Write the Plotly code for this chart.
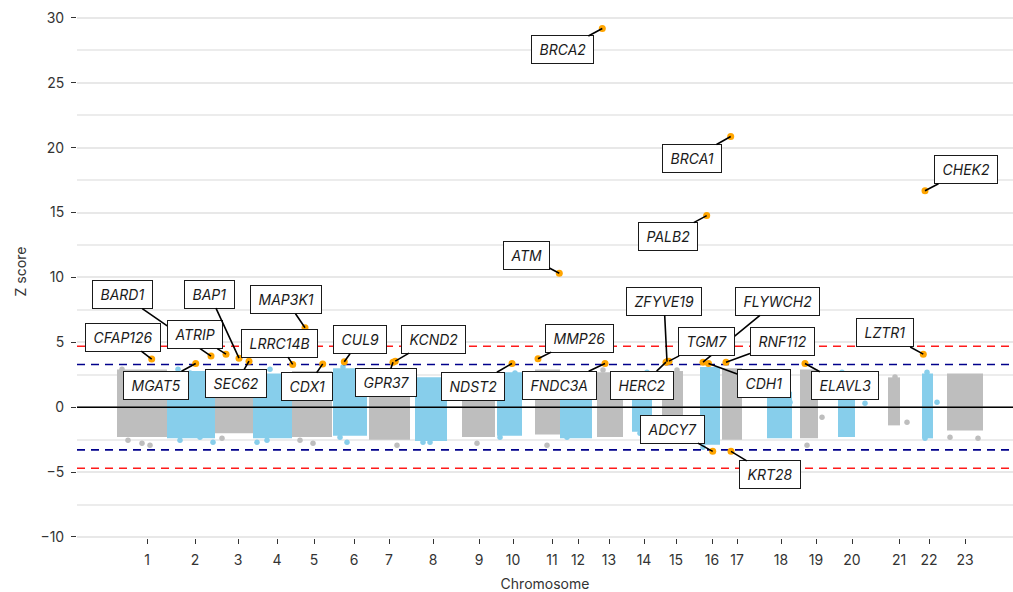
import plotly.graph_objects as go

# ---------------- data ----------------
chromosomes = [str(i) for i in range(1, 24)]
# x positions are cumulative genome position (arbitrary units)
chrom_tick_pos = [70, 118, 161, 200, 237, 277, 312, 356, 402, 436, 475, 501,
                  532, 567, 599, 635, 660, 704, 739, 775, 822, 852, 888]
chrom_start = [40, 90, 138, 176, 215, 256, 292, 338, 385, 420, 458, 483,
               520, 555, 585, 623, 645, 690, 723, 761, 811, 845, 870]
chrom_end = [90, 138, 176, 215, 255, 290, 333, 370, 418, 445, 483, 515,
             546, 575, 606, 643, 665, 715, 741, 778, 823, 856, 906]
# dense bulk of gene Z scores per chromosome
chrom_z_low = [-2.3, -2.4, -2.0, -2.4, -2.3, -2.2, -2.5, -2.6, -2.3, -2.2, -2.1, -2.4,
               -2.3, -1.9, -2.2, -2.9, -2.5, -2.4, -2.4, -2.3, -1.4, -2.4, -1.8]
chrom_z_high = [2.9, 2.8, 2.7, 2.6, 2.8, 3.0, 2.2, 2.3, 1.2, 2.7, 2.9, 2.3,
                2.7, 2.6, 2.8, 3.1, 3.0, 1.2, 2.9, 2.6, 2.3, 2.6, 2.6]

# scattered genes outside the dense bulk
outlier_chrom = [1, 1, 1, 1, 2, 2, 2, 2, 2, 3, 4, 4, 4, 5, 5, 6, 6, 6, 7, 8, 8, 9, 9,
                 10, 10, 11, 12, 13, 13, 14, 14, 15, 16, 18, 19, 19, 20, 20, 21, 21,
                 22, 22, 22, 23, 23]
outlier_pos = [45, 51, 65, 73, 101, 113, 103, 136, 123, 145, 193, 190, 180, 223, 236,
               266, 263, 270, 320, 346, 353, 393, 400, 438, 423, 470, 490, 526, 536,
               570, 563, 600, 626, 713, 730, 745, 788, 765, 818, 830, 850, 860, 848,
               873, 901]
outlier_z = [2.93, -2.55, -2.78, -2.93, 2.93, 2.63, -2.55, -2.70, -2.32, -2.39, 2.93,
             -2.55, -2.70, -2.55, -2.78, 3.09, -2.32, -2.70, -2.93, -2.70, -2.70, 1.16,
             -2.78, 2.63, -2.32, -2.93, -2.32, 2.86, -2.01, 2.70, -2.01, 2.86, -3.09,
             0.39, -2.93, -0.77, 0.31, 2.70, 2.32, -1.16, 2.70, 0.39, -2.39, -2.32, -2.39]

# highlighted genes
gene_names = ["BARD1", "FLYWCH2", "ZFYVE19", "BRCA2", "BRCA1", "CHEK2", "PALB2", "ATM",
              "ATRIP", "BAP1", "SEC62", "CFAP126", "MGAT5", "MAP3K1", "LRRC14B", "CDX1",
              "CUL9", "KCND2", "GPR37", "NDST2", "MMP26", "FNDC3A", "HERC2", "TGM7",
              "CDH1", "RNF112", "ELAVL3", "LZTR1", "ADCY7", "KRT28"]
gene_pos = [134, 626, 590, 525.3, 653.7, 848, 629.7, 482.3,
            149, 162, 172, 74.7, 118.7, 228, 215.7, 245.7,
            267.3, 318.3, 316, 435, 461, 528, 589, 592,
            631.5, 649, 728, 846.3, 635.7, 654]
gene_z = [3.94, 3.47, 3.51, 29.19, 20.87, 16.68, 14.77, 10.32,
          4.09, 3.78, 3.55, 3.71, 3.37, 6.12, 3.30, 3.34,
          3.50, 3.55, 3.47, 3.37, 3.73, 3.37, 3.47, 3.55,
          3.36, 3.47, 3.37, 4.09, -3.40, -3.40]

threshold_blue = 3.29
threshold_red = 4.7

# ---------------- layout helpers (label offsets in px) ----------------
label_offsets = {
    "BARD1": (-89, -61.5), "FLYWCH2": (74, -60.7), "ZFYVE19": (-3, -60.5),
    "BRCA2": (-40, 21.5), "BRCA1": (-39, 22), "CHEK2": (40.5, -21),
    "PALB2": (-39, 21), "ATM": (-33, -17.5), "ATRIP": (-31, -19.5),
    "BAP1": (-29.5, -64), "SEC62": (-13, 22.5), "CFAP126": (-28.7, -22),
    "MGAT5": (-40, 21.7), "MAP3K1": (-19, -28), "LRRC14B": (-13.7, -21.3),
    "CDX1": (-15.7, 22.8), "CUL9": (15.7, -22), "KCND2": (37.7, -22),
    "GPR37": (-7, 20.5), "NDST2": (-39.5, 22.7), "MMP26": (41, -20.7),
    "FNDC3A": (-46, 21.7), "HERC2": (-24, 23), "TGM7": (37, -19.3),
    "CDH1": (55.2, 20), "RNF112": (56, -20.3), "ELAVL3": (40.3, 22.2),
    "LZTR1": (-38.6, -21.2), "ADCY7": (-40.2, -22.2), "KRT28": (39, 23.5),
}

GRAY = "#bebebe"
BLUE = "#87ceeb"
FONT = "Inter"
x_range = [0, 936]
y_range = [-10.08, 31.0]

fig = go.Figure()

# dense bulk of each chromosome
centers = [(s + e) / 2 for s, e in zip(chrom_start, chrom_end)]
widths = [e - s for s, e in zip(chrom_start, chrom_end)]
colors = [GRAY if (i % 2 == 0) else BLUE for i in range(len(chromosomes))]
fig.add_trace(go.Bar(
    x=centers, y=[h - l for h, l in zip(chrom_z_high, chrom_z_low)],
    base=chrom_z_low, width=widths, marker=dict(color=colors, line=dict(width=0)),
    hoverinfo="skip", showlegend=False))

# scattered genes
fig.add_trace(go.Scatter(
    x=outlier_pos, y=outlier_z, mode="markers",
    marker=dict(size=5.5, color=[GRAY if c % 2 == 1 else BLUE for c in outlier_chrom]),
    showlegend=False, hoverinfo="skip"))

# reference lines
def hline(yv, color, dash, width):
    fig.add_trace(go.Scatter(x=x_range, y=[yv, yv], mode="lines",
                             line=dict(color=color, width=width, dash=dash),
                             showlegend=False, hoverinfo="skip"))

hline(0, "black", "solid", 1.6)
for s in (1, -1):
    hline(s * threshold_red, "#ff1a1a", "8px,6px", 1.6)
    hline(s * threshold_blue, "#00008b", "8px,6px", 1.6)

# highlighted genes
fig.add_trace(go.Scatter(
    x=gene_pos, y=gene_z, mode="markers",
    marker=dict(size=7, color="#ffa500"), text=gene_names,
    showlegend=False))

for name, xp, zp in zip(gene_names, gene_pos, gene_z):
    dx, dy = label_offsets[name]
    fig.add_annotation(
        x=xp, y=zp, ax=dx, ay=dy, axref="pixel", ayref="pixel",
        text="<i>\u2009" + name + "\u2009</i>",
        showarrow=True, arrowhead=0, arrowwidth=1.6, arrowcolor="black",
        standoff=0, startstandoff=0,
        font=dict(family=FONT, size=14, color="#1a1a1a"),
        bgcolor="white", bordercolor="#1a1a1a", borderwidth=1, borderpad=5)

fig.update_layout(
    width=1013, height=592,
    margin=dict(l=77, r=0, t=5, b=54),
    plot_bgcolor="white", paper_bgcolor="white",
    barmode="overlay",
    font=dict(family=FONT, size=14, color="#333333"),
    xaxis=dict(range=x_range, showgrid=False, zeroline=False, showline=False,
               tickmode="array", tickvals=chrom_tick_pos, ticktext=chromosomes,
               ticks="outside", ticklen=5, tickcolor="#333333", tickwidth=1,
               ticklabelstandoff=4,
               tickfont=dict(family=FONT, size=14, color="#333333"),
               title=dict(text="Chromosome", font=dict(family=FONT, size=14, color="#333333"),
                          standoff=14)),
    yaxis=dict(range=y_range, showgrid=True, gridcolor="#e8e8e8", gridwidth=1.5,
               zeroline=False, showline=False, tickmode="linear", tick0=0, dtick=5,
               ticks="outside", ticklen=5, tickcolor="#333333", tickwidth=1,
               ticklabelstandoff=4,
               tickfont=dict(family=FONT, size=14, color="#333333"),
               minor=dict(dtick=2.5, tick0=0, showgrid=True, gridcolor="#ececec",
                          gridwidth=1.5, ticks=""),
               title=dict(text="Z score", font=dict(family=FONT, size=14, color="#333333"),
                          standoff=10)),
)

fig.write_html("out.html", config={"displayModeBar": False},
               post_script="document.body.style.margin='0';")
